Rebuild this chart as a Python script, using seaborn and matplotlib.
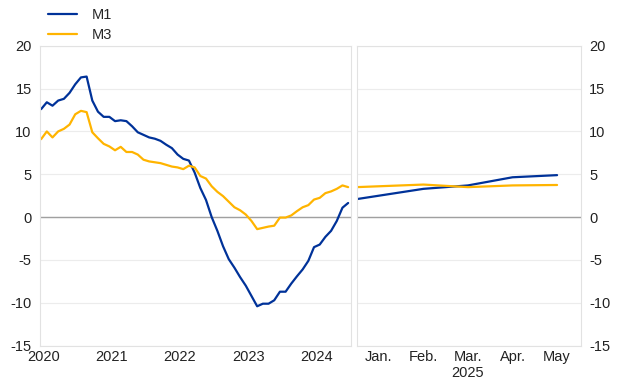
import pandas as pd
import seaborn as sns
import matplotlib.pyplot as plt
import numpy as np

# monthly annual growth rates, Jan 2020 - Jul 2024 (percent)
m1_hist = [12.6, 13.4, 13.0, 13.6, 13.8, 14.5, 15.5, 16.3, 16.4, 13.6,
           12.3, 11.7, 11.7, 11.2, 11.3, 11.2, 10.6, 9.9, 9.6, 9.3,
           9.15, 8.9, 8.45, 8.05, 7.3, 6.8, 6.6, 5.2, 3.4, 2.0,
           0.0, -1.6, -3.4, -4.9, -5.9, -7.0, -8.0, -9.2, -10.4, -10.1,
           -10.1, -9.7, -8.7, -8.7, -7.75, -6.9, -6.1, -5.1, -3.5, -3.2,
           -2.3, -1.6, -0.45, 1.1, 1.65]
m3_hist = [9.1, 10.0, 9.3, 10.0, 10.3, 10.8, 12.0, 12.4, 12.25, 9.9,
           9.2, 8.55, 8.25, 7.8, 8.2, 7.6, 7.6, 7.3, 6.7, 6.5,
           6.4, 6.3, 6.1, 5.9, 5.8, 5.6, 6.0, 5.8, 4.8, 4.5,
           3.6, 2.95, 2.45, 1.8, 1.15, 0.8, 0.3, -0.45, -1.4, -1.25,
           -1.1, -1.0, -0.05, -0.05, 0.2, 0.7, 1.15, 1.4, 2.05, 2.25,
           2.8, 3.0, 3.3, 3.7, 3.5]
years = ["2020", "2021", "2022", "2023", "2024"]

# recent months, 2025 (month position, Jan = 0)
recent_pos = [-0.5, 1, 2, 3, 4]
m1_recent = [2.1, 3.3, 3.7, 4.65, 4.9]
m3_recent = [3.5, 3.8, 3.5, 3.7, 3.75]
month_labels = ["Jan.", "Feb.", "Mar.\n2025", "Apr.", "May"]

blue = "#003299"
yellow = "#FFB400"
grid_col = "#ececec"
edge_col = "#e2e2e2"

sns.set_style("white")
plt.rcParams['font.family'] = ['Liberation Sans', 'DejaVu Sans']
plt.rcParams['font.size'] = 10

hist = pd.DataFrame({
    "month": list(range(len(m1_hist))) * 2,
    "value": m1_hist + m3_hist,
    "series": ["M1"] * len(m1_hist) + ["M3"] * len(m3_hist),
})
recent = pd.DataFrame({
    "month": recent_pos * 2,
    "value": m1_recent + m3_recent,
    "series": ["M1"] * len(m1_recent) + ["M3"] * len(m3_recent),
})
palette = {"M1": blue, "M3": yellow}

fig = plt.figure(figsize=(6.2, 3.87), dpi=100)
ax1 = fig.add_axes([0.0645, 0.1067, 0.5016, 0.7752])
ax2 = fig.add_axes([0.5758, 0.1067, 0.3608, 0.7752])

sns.lineplot(data=hist, x="month", y="value", hue="series", palette=palette,
             linewidth=1.6, ax=ax1, legend=False)
sns.lineplot(data=recent, x="month", y="value", hue="series", palette=palette,
             linewidth=1.6, ax=ax2, legend=False)

for ax in (ax1, ax2):
    ax.set_ylim(-15, 20)
    ax.set_yticks(np.arange(-15, 21, 5))
    ax.grid(axis="y", color=grid_col, linewidth=0.8)
    ax.set_axisbelow(True)
    ax.axhline(0, color="#a0a0a0", linewidth=1.0, zorder=1)
    for s in ax.spines.values():
        s.set_color(edge_col)
        s.set_linewidth(0.8)
    ax.set_xlabel("")
    ax.set_ylabel("")
    ax.tick_params(axis="y", length=0, pad=6, labelsize=10.5, colors="#222222")
    ax.tick_params(axis="x", which="major", length=0, pad=3, labelsize=10.5,
                   colors="#222222")
    ax.tick_params(axis="x", which="minor", length=3, color=edge_col)

ax1.set_xlim(-0.2, 54.5)
ax1.set_xticks([12 * i + 0.4 for i in range(len(years))])
ax1.set_xticklabels(years)
ax1.set_xticks([12 * i + 6.5 for i in range(len(years))], minor=True)
ax1.set_yticklabels([str(v) for v in range(-15, 21, 5)])

ax2.set_xlim(-0.49, 4.53)
ax2.set_xticks(range(len(month_labels)))
ax2.set_xticklabels(month_labels)
ax2.set_xticks([0.5, 1.5, 2.5, 3.5], minor=True)
ax2.yaxis.tick_right()
ax2.set_yticklabels([str(v) for v in range(-15, 21, 5)])

handles = [plt.Line2D([], [], color=blue, linewidth=1.6),
           plt.Line2D([], [], color=yellow, linewidth=1.6)]
fig.legend(handles, ["M1", "M3"], loc="upper left", bbox_to_anchor=(0.057, 1.012),
           frameon=False, fontsize=10.5, handlelength=1.95, handletextpad=1.0,
           labelspacing=0.4)

fig.savefig("out.png", dpi=100)
